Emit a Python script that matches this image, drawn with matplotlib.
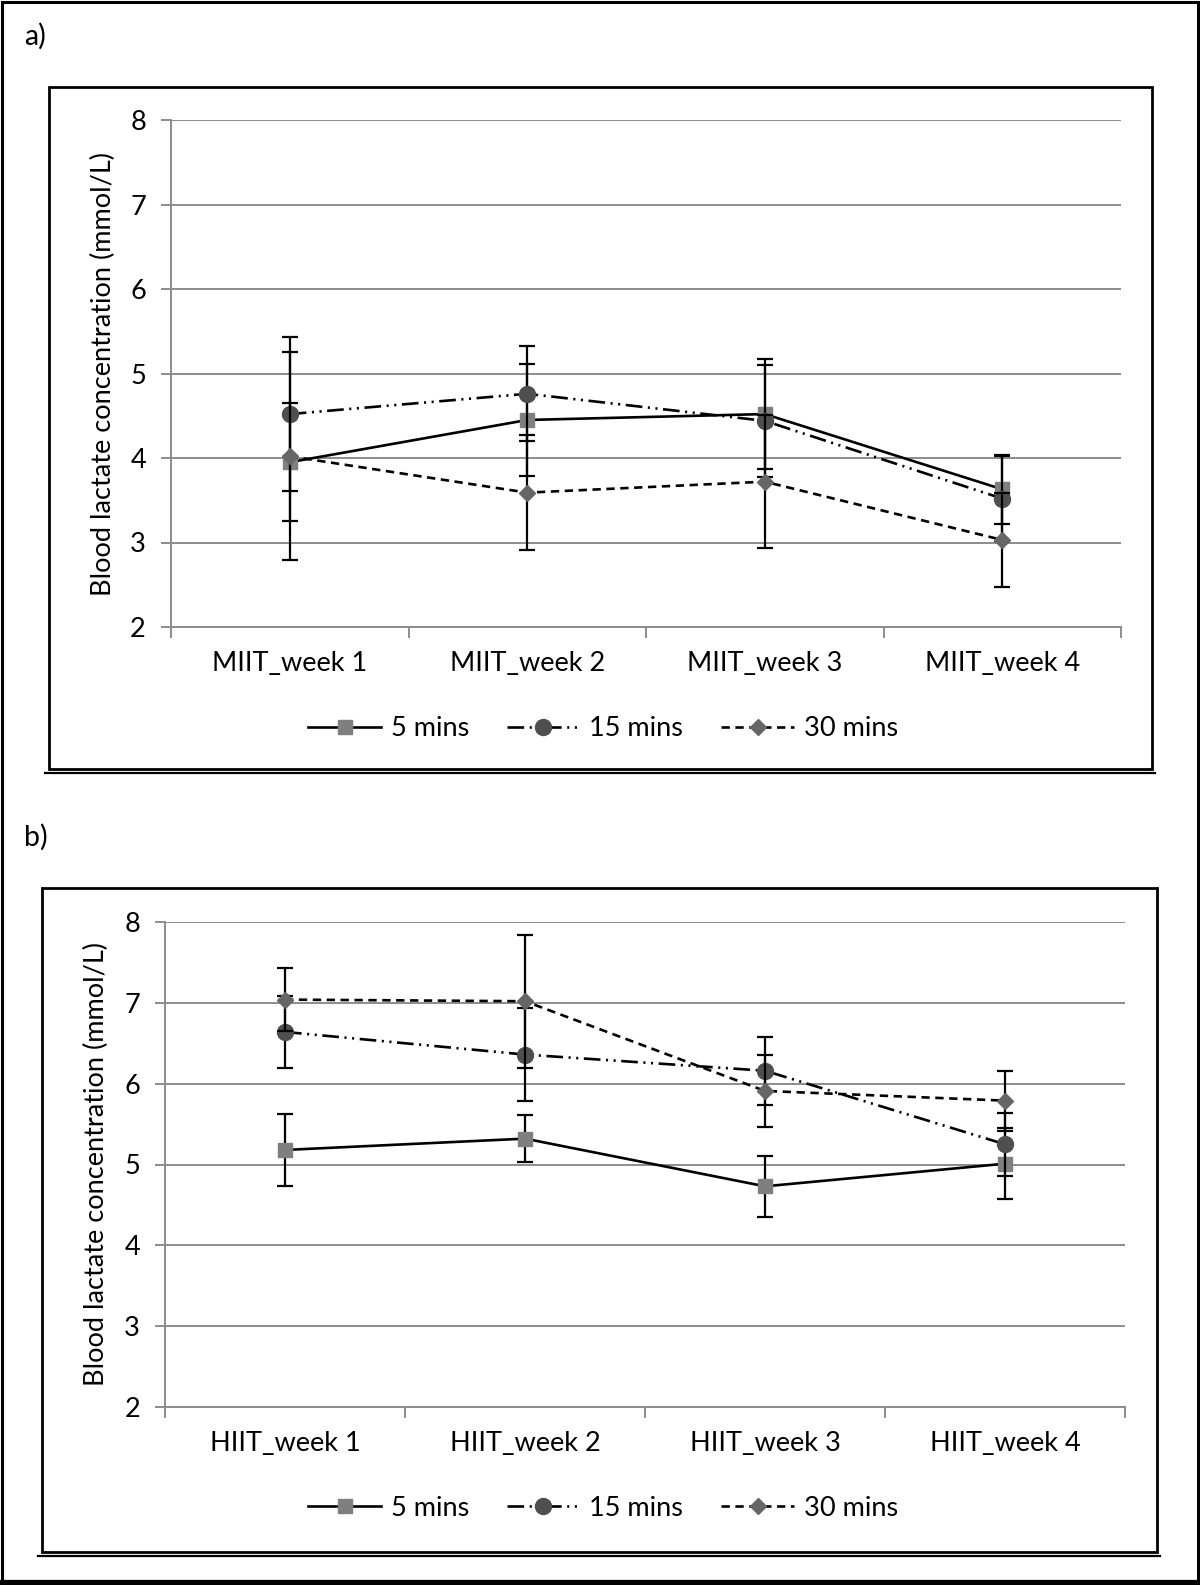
import matplotlib
matplotlib.use("Agg")
import matplotlib.pyplot as plt
from matplotlib.patches import Rectangle
from matplotlib.lines import Line2D
import numpy as np

plt.rcParams['font.family'] = ['Lato', 'DejaVu Sans']
plt.rcParams['lines.scale_dashes'] = False

# ---------------- data ----------------
series_labels = ["5 mins", "15 mins", "30 mins"]
miit_weeks = ["MIIT_week 1", "MIIT_week 2", "MIIT_week 3", "MIIT_week 4"]
hiit_weeks = ["HIIT_week 1", "HIIT_week 2", "HIIT_week 3", "HIIT_week 4"]

miit_5 = [3.95, 4.45, 4.52, 3.63]
miit_5_sd = [0.70, 0.66, 0.65, 0.41]
miit_15 = [4.52, 4.76, 4.44, 3.52]
miit_15_sd = [0.91, 0.56, 0.66, 0.50]
miit_30 = [4.02, 3.59, 3.72, 3.03]
miit_30_sd = [1.23, 0.68, 0.79, 0.56]

hiit_5 = [5.18, 5.32, 4.73, 5.01]
hiit_5_sd = [0.45, 0.29, 0.38, 0.44]
hiit_15 = [6.64, 6.36, 6.16, 5.25]
hiit_15_sd = [0.45, 0.57, 0.42, 0.39]
hiit_30 = [7.04, 7.02, 5.91, 5.79]
hiit_30_sd = [0.39, 0.82, 0.44, 0.37]

y_ticks = [2, 3, 4, 5, 6, 7, 8]
y_label = "Blood lactate concentration (mmol/L)"

# ---------------- styles ----------------
W, H = 1200, 1585
def fx(x):
    return x / W
def fy(y):
    return 1 - y / H

styles = [
    dict(linestyle='-', marker='s', mfc='#7f7f7f', mec='#7f7f7f', ms=10),
    dict(linestyle=(0, (12, 4, 1.5, 4, 1.5, 4)), marker='o', mfc='#4f4f4f', mec='#4f4f4f', ms=11.5),
    dict(linestyle=(0, (6, 4)), marker='D', mfc='#666666', mec='#666666', ms=8),
]
GRID = '#8c8c8c'
FS = 19.5

fig = plt.figure(figsize=(W / 100, H / 100), dpi=100)


def draw_panel(rect, cats, means, sds, legend_y, box, label, label_y):
    ax = fig.add_axes(rect)
    x = np.arange(1, len(cats) + 1)
    for i, (m, s) in enumerate(zip(means, sds)):
        ax.errorbar(x, m, yerr=s, fmt='none', ecolor='black', elinewidth=1.6,
                    capsize=5.5, capthick=1.6, zorder=3 + i * 2)
        ax.plot(x, m, color='black', lw=1.9, label=series_labels[i],
                zorder=4 + i * 2, **styles[i])
    ax.set_xlim(0.5, len(cats) + 0.5)
    ax.set_ylim(2, 8)
    ax.set_yticks(y_ticks)
    ax.set_yticklabels([str(t) for t in y_ticks], fontsize=FS)
    ax.grid(axis='y', color=GRID, lw=1.4, zorder=0)
    ax.set_axisbelow(True)
    ax.set_xticks(np.arange(0.5, len(cats) + 1, 1.0))
    ax.set_xticklabels([])
    ax.set_xticks(x, minor=True)
    ax.set_xticklabels(cats, minor=True, fontsize=FS)
    ax.tick_params(axis='x', which='major', length=8, color=GRID, width=1.4)
    ax.tick_params(axis='x', which='minor', length=0, pad=17)
    ax.tick_params(axis='y', length=7, color=GRID, width=1.4, pad=11)
    for s in ['top', 'right']:
        ax.spines[s].set_visible(False)
    for s in ['left', 'bottom']:
        ax.spines[s].set_color(GRID)
        ax.spines[s].set_linewidth(1.4)
    ax.set_ylabel(y_label, fontsize=FS)
    ax.yaxis.set_label_coords(-0.058, 0.5)
    handles, labels = ax.get_legend_handles_labels()
    fig.legend(handles, labels, loc='center', ncol=3, frameon=False,
               bbox_to_anchor=(fx(603), fy(legend_y)), fontsize=FS,
               handlelength=2.7, handletextpad=0.35, columnspacing=1.4)
    # chart box
    x0, y0, x1, y1 = box
    fig.add_artist(Rectangle((fx(x0), fy(y1)), fx(x1) - fx(x0), fy(y0) - fy(y1),
                             transform=fig.transFigure, fill=False,
                             edgecolor='black', lw=2.0))
    fig.add_artist(Line2D([fx(x0 - 4), fx(x1 + 3)], [fy(y1 + 4), fy(y1 + 4)],
                          transform=fig.transFigure, color='black', lw=1.6))
    fig.text(fx(24), fy(label_y), label, fontsize=FS + 1, va='center', ha='left')
    return ax


draw_panel([fx(171), fy(627), 950 / W, 507 / H], miit_weeks,
           [miit_5, miit_15, miit_30], [miit_5_sd, miit_15_sd, miit_30_sd],
           729, (49, 87, 1152, 769), 'a)', 36)
draw_panel([fx(165), fy(1407), 960 / W, 485 / H], hiit_weeks,
           [hiit_5, hiit_15, hiit_30], [hiit_5_sd, hiit_15_sd, hiit_30_sd],
           1508, (42, 888, 1157, 1552), 'b)', 837)

# outer frame
fig.add_artist(Rectangle((fx(2), fy(1582)), fx(1196), fy(2) - fy(1582),
                         transform=fig.transFigure, fill=False,
                         edgecolor='black', lw=2.2))
fig.add_artist(Line2D([0, 1], [fy(1582.5), fy(1582.5)], transform=fig.transFigure,
                      color='black', lw=4.5))

fig.savefig('out.png', dpi=100)
